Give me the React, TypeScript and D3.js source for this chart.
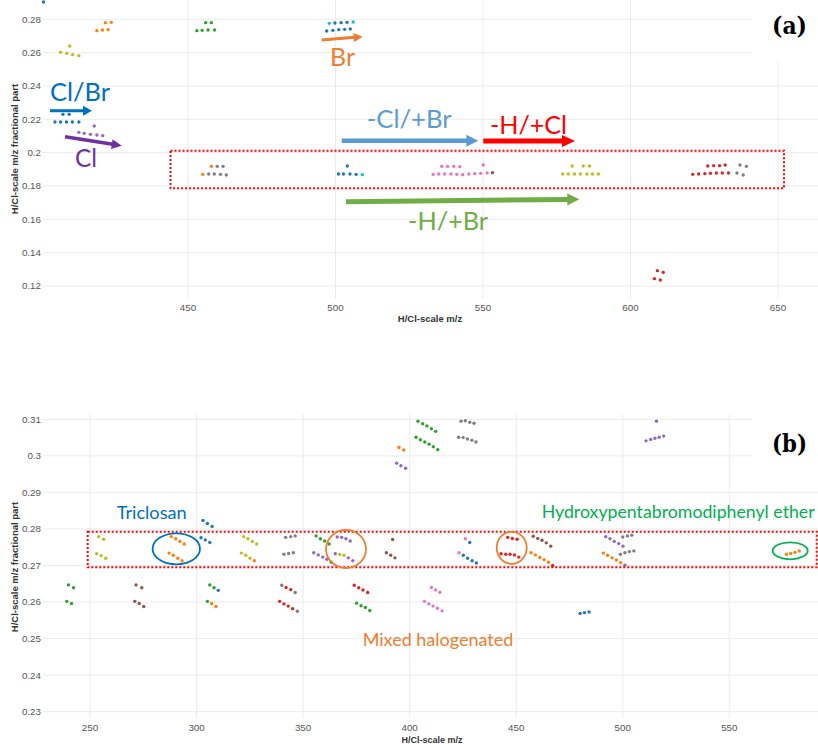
import React from 'react'
import * as d3 from 'd3'

type Pt = [number, number]

// ---- panel (a): H/Cl-scale m/z vs fractional part ----
const aBlue: Pt[] = [
  [401, 0.2904],
  [404.9, 0.2184], [406.8, 0.2184], [408.8, 0.2184], [410.8, 0.2184], [413, 0.2184], [407.6, 0.223], [409.7, 0.223],
  [497, 0.273], [499.1, 0.2734], [501.1, 0.2738], [503.1, 0.274], [505, 0.2742],
  [499.8, 0.2778], [501.9, 0.278], [503.9, 0.2782],
  [501, 0.1872], [502.7, 0.1872], [504.9, 0.1872], [507, 0.187], [504, 0.192],
]
const aCyan: Pt[] = [[497.9, 0.2776], [506, 0.2784], [509.1, 0.1868]]
const aOrange: Pt[] = [
  [419.1, 0.2732], [421, 0.2736], [422.9, 0.2738], [422, 0.278], [424, 0.2782],
  [455, 0.187], [457.9, 0.1918],
]
const aOlive: Pt[] = [
  [406.8, 0.2602], [408.9, 0.2596], [410.9, 0.2588], [413, 0.2582], [409.9, 0.264],
  [577, 0.1872], [578.9, 0.1872], [581, 0.1872], [583, 0.1872], [585.2, 0.1872], [587.1, 0.1872], [589.1, 0.1872],
  [580.2, 0.192], [584, 0.192], [586.1, 0.192],
]
const aGreen: Pt[] = [
  [453, 0.2732], [454.8, 0.2734], [456.8, 0.2736], [459, 0.2736], [456, 0.278], [457.9, 0.278],
]
const aPurple: Pt[] = [
  [413, 0.2122], [414.8, 0.2116], [416.9, 0.211], [419.1, 0.2106], [421.1, 0.2102], [418.2, 0.216],
]
const aGray: Pt[] = [
  [457, 0.1872], [458.9, 0.1872], [461, 0.187], [463, 0.1866], [459.9, 0.1918], [461.9, 0.1918],
  [636.1, 0.1878], [638.2, 0.1866], [637.1, 0.1926], [639.3, 0.1918],
]
const aPink: Pt[] = [
  [533.1, 0.187], [535, 0.1872], [537, 0.1872], [539.1, 0.1872], [541.1, 0.187], [543.1, 0.1868],
  [545.2, 0.1872], [547.2, 0.1874], [549.2, 0.1876], [551.4, 0.1878],
  [536, 0.1918], [538, 0.1918], [540.1, 0.1918], [542.1, 0.1916], [550.1, 0.1926],
]
const aBrown: Pt[] = [[553.2, 0.188]]
const aRed: Pt[] = [
  [621.1, 0.187], [623.1, 0.1872], [625.2, 0.1874], [627.1, 0.1876], [629.1, 0.1878], [631.1, 0.1878], [633.2, 0.1878],
  [626.2, 0.192], [628.2, 0.1922], [630.2, 0.1922], [632.1, 0.1926],
  [609.1, 0.1292], [611.1, 0.1282], [608.1, 0.1244], [610.1, 0.1236],
]

// ---- panel (b) ----
const bOlive: Pt[] = [
  [254.1, 0.2779], [256.4, 0.2772], [253.1, 0.2732], [255.2, 0.2727], [257.4, 0.272],
  [322.1, 0.2779], [324.1, 0.2773], [326.2, 0.2766], [328.2, 0.2759],
  [321, 0.2734], [323.1, 0.2728], [325.1, 0.272],
  [367.2, 0.273], [369.2, 0.2728],
]
const bGreen: Pt[] = [
  [239.9, 0.2647], [242.3, 0.2639], [239.1, 0.2602], [241.3, 0.2596],
  [306.2, 0.2647], [308.2, 0.2639], [305.1, 0.2602],
  [356.1, 0.2781], [358.1, 0.2773], [360.1, 0.2767], [362.2, 0.2759], [363.2, 0.2709],
  [375.1, 0.2597], [377.2, 0.259], [379.2, 0.2585], [381.3, 0.2577],
  [403.9, 0.3095], [406.1, 0.3088], [408.1, 0.3082], [410.2, 0.3074], [412.2, 0.3067],
  [403, 0.3051], [405, 0.3044], [407.1, 0.3038], [409.1, 0.3032], [411.1, 0.3025], [413.2, 0.3017],
]
const bBlue: Pt[] = [
  [303, 0.2823], [305.1, 0.2815], [307.3, 0.2807], [302.1, 0.2776], [304.1, 0.277], [306.2, 0.2763],
  [310.2, 0.2632],
  [428.2, 0.2763], [425.2, 0.2728], [427.2, 0.272], [429.3, 0.2713], [431.3, 0.2707],
  [480, 0.2569], [482, 0.2571], [484.2, 0.2573],
]
const bBrown: Pt[] = [
  [271.6, 0.2647], [274.3, 0.2639], [271, 0.2602], [273.1, 0.2596], [275.2, 0.2588],
  [392, 0.2771], [389.1, 0.2735], [391.1, 0.2728], [393.1, 0.2721],
  [458, 0.278], [460.1, 0.2774], [462.1, 0.2769], [464.1, 0.2762], [466.2, 0.2753],
]
const bOrange: Pt[] = [
  [288.1, 0.2779], [290.2, 0.2773], [292.2, 0.2766], [294.2, 0.2759],
  [287.1, 0.2734], [289.1, 0.2728], [291.2, 0.272], [293.2, 0.2713],
  [307.1, 0.2596], [309.1, 0.2588],
  [327.1, 0.2713],
  [395, 0.3023], [397.2, 0.3016],
  [457, 0.2735], [459, 0.2729], [461.1, 0.2722], [463.1, 0.2716], [465.1, 0.2709],
  [490.9, 0.2734], [492.9, 0.2728], [495, 0.2721], [497, 0.2715], [499, 0.2708],
  [576.8, 0.2731], [578.8, 0.2733], [580.8, 0.2736], [582.8, 0.274],
]
const bRed: Pt[] = [
  [342, 0.264], [344.2, 0.2634],
  [339, 0.2602], [341, 0.2595], [343, 0.2589], [345.1, 0.2582],
  [374, 0.2646], [376.1, 0.2639], [378.1, 0.2633], [380.3, 0.2626],
  [446, 0.2777], [448.2, 0.2774], [450.4, 0.2772],
  [442.9, 0.2732], [445.1, 0.2731], [447.1, 0.2731], [449.2, 0.2729], [451.2, 0.2723],
  [467.1, 0.27],
]
const bGray: Pt[] = [
  [341.8, 0.2777], [344.2, 0.2779], [346.3, 0.2781], [341, 0.2731], [343.2, 0.2733], [345.4, 0.2735],
  [340, 0.2646], [346.3, 0.2626], [347.3, 0.2575],
  [424.1, 0.3095], [426.1, 0.3096], [428.2, 0.3092], [430.2, 0.3089],
  [423, 0.3051], [425.1, 0.305], [427.1, 0.3046], [429.2, 0.3043], [431.1, 0.3038],
  [500, 0.2778], [502.2, 0.2781], [504.2, 0.2783],
  [498.9, 0.2731], [501, 0.2735], [503.1, 0.2738], [505.2, 0.274],
]
const bPurple: Pt[] = [
  [355, 0.2735], [357.1, 0.2729], [359.2, 0.2723], [361.2, 0.2717],
  [366, 0.2778], [368.1, 0.2777], [370.1, 0.2773], [372.1, 0.2767],
  [365.1, 0.2732], [371.2, 0.2721], [373.3, 0.2713],
  [393.9, 0.298], [395.9, 0.2973], [398.1, 0.2966],
  [492, 0.2779], [494, 0.2773], [496, 0.2766], [498.1, 0.276], [500.1, 0.2753], [501, 0.2701],
  [515.8, 0.3095], [510.9, 0.3041], [513.1, 0.3045], [515.1, 0.3048], [517.1, 0.3051], [519.2, 0.3054],
]
const bPink: Pt[] = [
  [426.1, 0.2773], [423.2, 0.2735],
  [410.2, 0.264], [412.2, 0.2633], [414.2, 0.2627],
  [406.9, 0.2602], [409, 0.2595], [411, 0.2589], [413, 0.2583], [415.2, 0.2576],
]

const aYTicks = [0.12, 0.14, 0.16, 0.18, 0.2, 0.22, 0.24, 0.26, 0.28]
const aXTicks = [450, 500, 550, 600, 650]
const bYTicks = [0.23, 0.24, 0.25, 0.26, 0.27, 0.28, 0.29, 0.3, 0.31]
const bXTicks = [250, 300, 350, 400, 450, 500, 550]

const col = {
  blue: '#1f77b4', orange: '#ff7f0e', green: '#2ca02c', red: '#d62728', purple: '#9467bd',
  brown: '#8c564b', pink: '#e377c2', gray: '#7f7f7f', olive: '#bcbd22', cyan: '#17becf',
}

const seriesA = [
  { c: col.olive, d: aOlive }, { c: col.orange, d: aOrange }, { c: col.green, d: aGreen },
  { c: col.blue, d: aBlue }, { c: col.cyan, d: aCyan }, { c: col.purple, d: aPurple },
  { c: col.gray, d: aGray }, { c: col.pink, d: aPink }, { c: col.brown, d: aBrown }, { c: col.red, d: aRed },
]
const seriesB = [
  { c: col.olive, d: bOlive }, { c: col.green, d: bGreen }, { c: col.blue, d: bBlue },
  { c: col.brown, d: bBrown }, { c: col.orange, d: bOrange }, { c: col.red, d: bRed },
  { c: col.gray, d: bGray }, { c: col.purple, d: bPurple }, { c: col.pink, d: bPink },
]

const fmt = (v: number) => String(+v.toFixed(2))
const tickFont = '"Liberation Sans", Arial, sans-serif'
const noteFont = 'Lato, "Noto Sans", sans-serif'

function Panel({ x, y, xTicks, yTicks, tickY, titleX, titleY, titleSize, yTitleY, series }: any) {
  const [x0, x1] = x.range()
  const [y1, y0] = y.range()
  return (
    <g>
      {yTicks.map((t: number) => (
        <line key={'h' + t} x1={x0} x2={x1} y1={y(t)} y2={y(t)} stroke="#ebebeb" strokeWidth={1} />
      ))}
      {xTicks.map((t: number) => (
        <line key={'v' + t} x1={x(t)} x2={x(t)} y1={y0} y2={y1} stroke="#ebebeb" strokeWidth={1} />
      ))}
      {yTicks.map((t: number) => (
        <text key={'yl' + t} x={41} y={y(t)} dy="0.35em" textAnchor="end" fontSize={9.8}
          fontFamily={tickFont} fill="#555">{fmt(t)}</text>
      ))}
      {xTicks.map((t: number) => (
        <text key={'xl' + t} x={x(t)} y={tickY} dy="0.35em" textAnchor="middle" fontSize={9.8}
          fontFamily={tickFont} fill="#555">{t}</text>
      ))}
      <text x={titleX} y={titleY} dy="0.35em" textAnchor="middle" fontSize={titleSize} fontWeight="bold"
        fontFamily={tickFont} fill="#333">H/Cl-scale m/z</text>
      <text transform={`translate(15,${yTitleY}) rotate(-90)`} dy="0.35em" textAnchor="middle" fontSize={9.5}
        fontWeight="bold" fontFamily={tickFont} fill="#333">H/Cl-scale m/z fractional part</text>
      {series.map((s: any, i: number) => (
        <g key={i} fill={s.c}>
          {s.d.map((p: Pt, j: number) => (
            <circle key={j} cx={x(p[0])} cy={y(p[1])} r={1.7} />
          ))}
        </g>
      ))}
    </g>
  )
}

function Arrow({ x1, y1, x2, y2, color, w, hl, hw }: any) {
  const a = Math.atan2(y2 - y1, x2 - x1)
  const bx = x2 - hl * Math.cos(a)
  const by = y2 - hl * Math.sin(a)
  const px = -Math.sin(a) * hw
  const py = Math.cos(a) * hw
  return (
    <g>
      <line x1={x1} y1={y1} x2={bx + Math.cos(a)} y2={by + Math.sin(a)} stroke={color} strokeWidth={w} />
      <polygon points={`${x2},${y2} ${bx + px},${by + py} ${bx - px},${by - py}`} fill={color} />
    </g>
  )
}

function Note({ x, y, txt, color, size, len }: any) {
  return (
    <text x={x} y={y} fill={color} fontSize={size} fontFamily={noteFont}
      textLength={len} lengthAdjust="spacingAndGlyphs">{txt}</text>
  )
}

export default function App() {
  const xa = d3.scaleLinear().domain([400.5, 663.56]).range([42, 818])
  const ya = d3.scaleLinear().domain([0.1122, 0.2916]).range([299, 0])
  const xb = d3.scaleLinear().domain([227.94, 591.62]).range([43, 818])
  const yb = d3.scaleLinear().domain([0.22828, 0.31145]).range([718, 414])

  return (
    <svg width={818} height={744} style={{ position: 'absolute', left: 0, top: 0, background: '#fff' }}>
      <rect width={818} height={744} fill="#fff" />
      <Panel x={xa} y={ya} xTicks={aXTicks} yTicks={aYTicks} tickY={308} titleX={430} titleY={318.5}
        titleSize={9.5} yTitleY={149} series={seriesA} />
      <Panel x={xb} y={yb} xTicks={bXTicks} yTicks={bYTicks} tickY={728} titleX={432} titleY={739.5}
        titleSize={9} yTitleY={567} series={seriesB} />

      {/* panel (a) annotations */}
      <rect x={752} y={0} width={66} height={61} fill="#fff" />
      <text x={772} y={34} fontSize={24} fontWeight="bold" fontFamily='"DejaVu Serif", serif'
        textLength={35} lengthAdjust="spacingAndGlyphs">(a)</text>
      <rect x={170.5} y={150.7} width={613.5} height={37.6} fill="none" stroke="#ff0000"
        strokeWidth={2} strokeDasharray="2,2" />
      <Note x={50} y={101} txt="Cl/Br" color="#0070c0" size={25} len={60} />
      <Arrow x1={50} y1={110.7} x2={92} y2={110.7} color="#0070c0" w={3} hl={9} hw={5} />
      <Arrow x1={65} y1={136.7} x2={121.7} y2={145.7} color="#7030a0" w={3.5} hl={10} hw={5} />
      <Note x={75} y={167} txt="Cl" color="#7030a0" size={25} len={22} />
      <Arrow x1={321.7} y1={40} x2={362.7} y2={36.7} color="#ed7d31" w={3} hl={9} hw={4.5} />
      <Note x={330} y={66} txt="Br" color="#ed7d31" size={25} len={25} />
      <Note x={366.7} y={128} txt="-Cl/+Br" color="#5b9bd5" size={25} len={85} />
      <Arrow x1={341.7} y1={140.7} x2={478.3} y2={140.7} color="#5b9bd5" w={4.5} hl={12} hw={6} />
      <Note x={490} y={134} txt="-H/+Cl" color="#ff0000" size={25} len={77} />
      <Arrow x1={483.3} y1={141} x2={575} y2={141} color="#ff0000" w={5} hl={13} hw={6} />
      <Arrow x1={346} y1={201.7} x2={579.3} y2={199.3} color="#70ad47" w={5} hl={12} hw={6} />
      <Note x={408} y={230} txt="-H/+Br" color="#70ad47" size={25} len={80} />

      {/* panel (b) annotations */}
      <rect x={752} y={413} width={66} height={56} fill="#fff" />
      <text x={772} y={452} fontSize={24} fontWeight="bold" fontFamily='"DejaVu Serif", serif'
        textLength={35} lengthAdjust="spacingAndGlyphs">(b)</text>
      <rect x={87.7} y={531.7} width={729} height={35.6} fill="none" stroke="#ff0000"
        strokeWidth={2} strokeDasharray="2,2" />
      <Note x={116.7} y={519} txt="Triclosan" color="#0070c0" size={18} len={70} />
      <ellipse cx={176.3} cy={548.8} rx={23.7} ry={15.5} fill="none" stroke="#0070c0" strokeWidth={1.8} />
      <ellipse cx={346} cy={549} rx={20} ry={19} fill="none" stroke="#ed7d31" strokeWidth={1.8} />
      <ellipse cx={511.7} cy={547.8} rx={15} ry={16} fill="none" stroke="#ed7d31" strokeWidth={1.8} />
      <ellipse cx={790.2} cy={550.8} rx={17.5} ry={8.5} fill="none" stroke="#00b050" strokeWidth={1.8} />
      <Note x={362.7} y={645.5} txt="Mixed halogenated" color="#ed7d31" size={18} len={150.6} />
      <Note x={541.7} y={518.3} txt="Hydroxypentabromodiphenyl ether" color="#00b050" size={18} len={273} />
    </svg>
  )
}
